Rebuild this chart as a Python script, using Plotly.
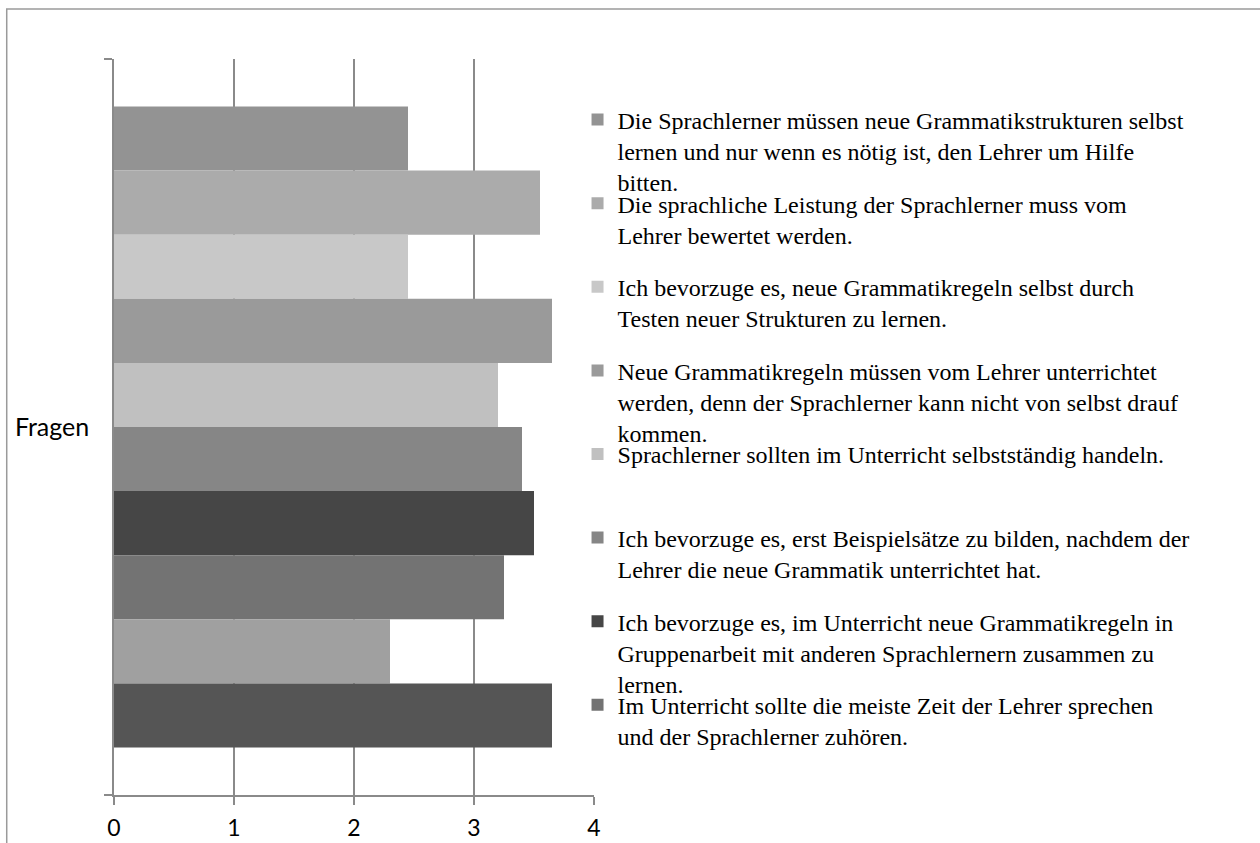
import plotly.graph_objects as go

category = ["Fragen"]

legend_lines = [
    ["Die Sprachlerner müssen neue Grammatikstrukturen selbst",
     "lernen und nur wenn es nötig ist, den Lehrer um Hilfe", "bitten."],
    ["Die sprachliche Leistung der Sprachlerner muss vom", "Lehrer bewertet werden."],
    ["Ich bevorzuge es, neue Grammatikregeln selbst durch", "Testen neuer Strukturen zu lernen."],
    ["Neue Grammatikregeln müssen vom Lehrer unterrichtet",
     "werden, denn der Sprachlerner kann nicht von selbst drauf", "kommen."],
    ["Sprachlerner sollten im Unterricht selbstständig handeln."],
    ["Ich bevorzuge es, erst Beispielsätze zu bilden, nachdem der",
     "Lehrer die neue Grammatik unterrichtet hat."],
    ["Ich bevorzuge es, im Unterricht neue Grammatikregeln in",
     "Gruppenarbeit mit anderen Sprachlernern zusammen zu", "lernen."],
    ["Im Unterricht sollte die meiste Zeit der Lehrer sprechen",
     "und der Sprachlerner zuhören."],
    [""],
    [""],
]

values = [2.45, 3.55, 2.45, 3.65, 3.2, 3.4, 3.5, 3.25, 2.3, 3.65]

colors = ["#939393", "#ababab", "#c8c8c8", "#9a9a9a", "#c0c0c0",
          "#868686", "#464646", "#737373", "#a0a0a0", "#555555"]

x_ticks = [0, 1, 2, 3, 4]

# geometry helpers (page pixels; body margin is removed by post_script)
W, H = 1260, 843
PL, PR, PT, PB = 113.5, 594.5, 59, 795
pw, ph = PR - PL, PB - PT


def px_to_paper_x(px):
    return (px - PL) / pw


def px_to_paper_y(py):
    return 1 - (py - PT) / ph


fig = go.Figure()
layout_legends = {}
n_shown = 8
LEG_FONT = 24
for i, (lines, v, c) in enumerate(zip(legend_lines, values, colors)):
    name = "<br>".join(lines)
    show = i < n_shown
    lg = "legend" if i == 0 else f"legend{i + 1}"
    fig.add_trace(go.Bar(
        x=[v], y=category, orientation="h", name=name,
        marker=dict(color=c, line=dict(width=0)),
        showlegend=show, legend=lg if show else None,
    ))
    if show:
        baseline = 125.5 + 83.6 * i
        top_px = baseline - 28
        layout_legends[lg] = dict(
            x=px_to_paper_x(578), y=px_to_paper_y(top_px),
            xanchor="left", yanchor="top",
            bgcolor="rgba(0,0,0,0)", borderwidth=0,
            font=dict(family="Liberation Serif", size=LEG_FONT, color="#000000"),
            valign="top", itemclick=False, itemdoubleclick=False,
        )

grid_col = "#8a8a8a"

fig.update_layout(
    width=W, height=H,
    margin=dict(l=PL, r=W - PR, t=PT, b=H - PB, pad=0, autoexpand=False),
    paper_bgcolor="white", plot_bgcolor="white",
    barmode="group", bargap=0.129, bargroupgap=0,
    xaxis=dict(
        range=[0, 4], tickvals=x_ticks, ticktext=[str(t) for t in x_ticks],
        showgrid=True, gridcolor=grid_col, gridwidth=1.5,
        zeroline=False, showline=True, linecolor=grid_col, linewidth=1.5,
        ticks="outside", ticklen=8, tickcolor=grid_col, tickwidth=1.5,
        tickfont=dict(family="Lato", size=23, color="#000000"),
        ticklabelstandoff=4, automargin=False,
    ),
    yaxis=dict(
        type="category", categoryarray=category, range=[0.5, -0.5],
        showgrid=False, zeroline=False, showline=True, linecolor=grid_col, linewidth=1.5,
        ticks="outside", ticklen=8, tickcolor=grid_col, tickwidth=1.5,
        tickson="boundaries",
        tickfont=dict(family="Lato", size=25, color="#000000"),
        ticklabelstandoff=18, automargin=False,
    ),
    showlegend=True,
    **layout_legends,
)

# chart-area border (outer frame)
fig.add_shape(type="rect", xref="paper", yref="paper",
              x0=px_to_paper_x(6), x1=px_to_paper_x(1300),
              y0=px_to_paper_y(900), y1=px_to_paper_y(9),
              line=dict(color="#9a9a9a", width=1.5), fillcolor="rgba(0,0,0,0)",
              layer="below")

fig.write_html("out.html", config={"displayModeBar": False},
               post_script="document.body.style.margin='0';")
